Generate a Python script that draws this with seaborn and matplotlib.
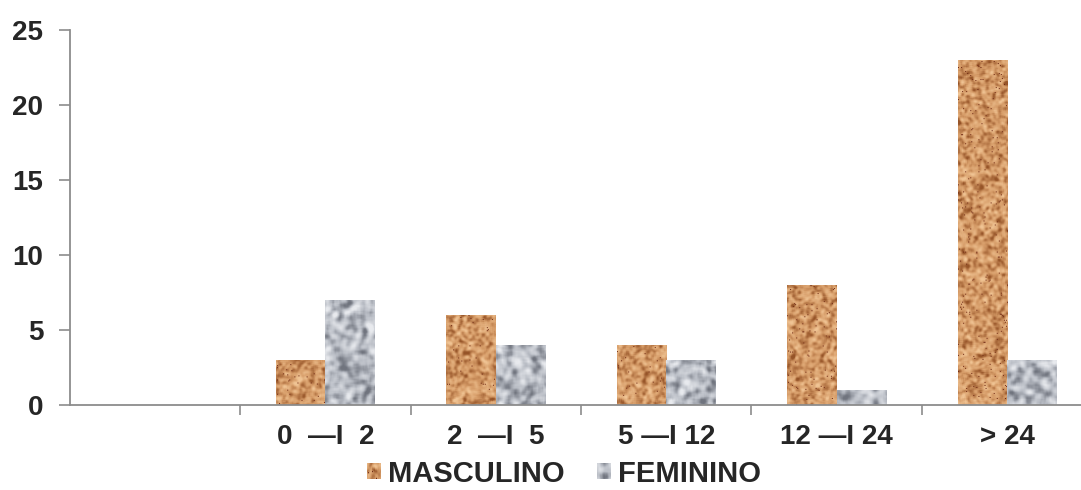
import numpy as np
import pandas as pd
import matplotlib
matplotlib.use("Agg")
import matplotlib.pyplot as plt
import seaborn as sns
from matplotlib.patches import Rectangle
from matplotlib.legend_handler import HandlerPatch
from matplotlib.image import BboxImage
from matplotlib.transforms import Bbox, TransformedBbox

# Age bands (first slot intentionally blank) and counts per sex
categorias = ["", "0  \u2014I  2", "2  \u2014I  5", "5 \u2014I 12", "12 \u2014I 24", "> 24"]
faixas = ["0  \u2014I  2", "2  \u2014I  5", "5 \u2014I 12", "12 \u2014I 24", "> 24"]
masculino = [3, 6, 4, 8, 23]
feminino = [7, 4, 3, 1, 3]
series = ["MASCULINO", "FEMININO"]
y_ticks = [0, 5, 10, 15, 20, 25]

df = pd.DataFrame({
    "faixa": faixas * 2,
    "sexo": [series[0]] * len(faixas) + [series[1]] * len(faixas),
    "n": masculino + feminino,
})

cor_m = "#d49a63"
cor_f = "#b4b8c0"
FS = 20
FS_LEG = 21

sns.set_theme(style="white")
plt.rcParams["font.family"] = ["Liberation Sans", "DejaVu Sans"]
plt.rcParams["font.weight"] = "bold"

fig = plt.figure(figsize=(10.81, 4.90), dpi=100)
# the last category boundary falls just past the right edge of the canvas
ax = fig.add_axes([0.0645, 0.1735, 0.946, 0.7655])

sns.barplot(data=df, x="faixa", y="n", hue="sexo", order=categorias,
            hue_order=series, palette=[cor_m, cor_f], width=0.58,
            saturation=1, linewidth=0, ax=ax, legend=False)

rng = np.random.default_rng(7)


def blur(a, k=1):
    out = a.copy()
    for _ in range(2):
        acc = np.zeros_like(out)
        cnt = 0
        for dy in range(-k, k + 1):
            for dx in range(-k, k + 1):
                acc += np.roll(np.roll(out, dy, 0), dx, 1)
                cnt += 1
        out = acc / cnt
    return out


def textura(h, w, tipo):
    h = max(int(h), 2)
    w = max(int(w), 2)
    if tipo == 0:
        fino = blur(rng.standard_normal((h, w)), 1)
        fino = (fino - fino.mean()) / (fino.std() + 1e-9)
        base = np.array([214, 156, 104]) / 255
        claro = np.array([240, 196, 148]) / 255
        escuro = np.array([150, 84, 40]) / 255
        t = np.clip(fino, -2.5, 2.5)
        img = base[None, None, :] + np.where(t[..., None] > 0,
                                             t[..., None] / 2.5 * (claro - base),
                                             -t[..., None] / 2.5 * (escuro - base))
        manchas = rng.random((h, w)) < 0.012
        img[manchas] = np.array([110, 40, 20]) / 255
    else:
        grosso = blur(rng.standard_normal((h, w)), 2)
        grosso = (grosso - grosso.mean()) / (grosso.std() + 1e-9)
        base = np.array([186, 190, 198]) / 255
        claro = np.array([232, 234, 238]) / 255
        escuro = np.array([112, 116, 126]) / 255
        t = np.clip(grosso, -2.3, 2.3)
        img = base[None, None, :] + np.where(t[..., None] > 0,
                                             t[..., None] / 2.3 * (claro - base),
                                             -t[..., None] / 2.3 * (escuro - base))
    return np.clip(img, 0, 1)


ax.set_ylim(0, 25)
ax.set_xlim(-0.5, 5.5)
fig.canvas.draw()

# Fill each bar with its grain texture, clipped to the bar outline
for p in list(ax.patches):
    x0, y0 = p.get_x(), p.get_y()
    w, h = p.get_width(), p.get_height()
    if h <= 0:
        continue
    fc = p.get_facecolor()
    tipo = 0 if fc[0] - fc[2] > 0.2 else 1
    (px0, py0), (px1, py1) = ax.transData.transform([(x0, y0), (x0 + w, y0 + h)])
    img = textura(abs(py1 - py0), abs(px1 - px0), tipo)
    im = ax.imshow(img, extent=(x0, x0 + w, y0, y0 + h), aspect="auto",
                   interpolation="bilinear", zorder=p.get_zorder() + 0.1)
    im.set_clip_path(p)
ax.set_xlim(-0.5, 5.5)
ax.set_ylim(0, 25)

# Axes styling
for s in ["top", "right"]:
    ax.spines[s].set_visible(False)
for s in ["left", "bottom"]:
    ax.spines[s].set_color("#8c8c8c")
    ax.spines[s].set_linewidth(1.3)

ax.set_yticks(y_ticks)
ax.set_yticklabels([str(v) for v in y_ticks], fontsize=FS, fontweight="bold")
ax.tick_params(axis="y", length=8, width=1.2, color="#8c8c8c", pad=11, left=True)

ax.set_xticks(np.arange(0.5, 6.0, 1.0))
ax.set_xticklabels([])
ax.tick_params(axis="x", which="major", length=7, width=1.2, color="#8c8c8c",
               bottom=True, direction="out")
ax.set_xticks(np.arange(len(categorias)), minor=True)
ax.set_xticklabels(categorias, minor=True, fontsize=FS, fontweight="bold")
ax.tick_params(axis="x", which="minor", length=0, pad=14)
ax.set_xlabel("")
ax.set_ylabel("")


class HandlerTextura(HandlerPatch):
    def __init__(self, tipo):
        super().__init__()
        self.tipo = tipo

    def create_artists(self, legend, orig_handle, xdescent, ydescent,
                       width, height, fontsize, trans):
        bb = TransformedBbox(Bbox.from_bounds(-xdescent, -ydescent, width, height), trans)
        bi = BboxImage(bb, interpolation="bilinear")
        bi.set_data(textura(14, 14, self.tipo))
        return [bi]


h_m = Rectangle((0, 0), 1, 1, facecolor=cor_m)
h_f = Rectangle((0, 0), 1, 1, facecolor=cor_f)
fig.legend([h_m, h_f], series, loc="center", bbox_to_anchor=(0.522, 0.033),
           ncol=2, frameon=False, prop={"size": FS_LEG, "weight": "bold"},
           handlelength=0.48, handleheight=0.45, handletextpad=0.25,
           columnspacing=1.1, borderpad=0.1,
           handler_map={h_m: HandlerTextura(0), h_f: HandlerTextura(1)})

fig.savefig("out.png", dpi=100)
